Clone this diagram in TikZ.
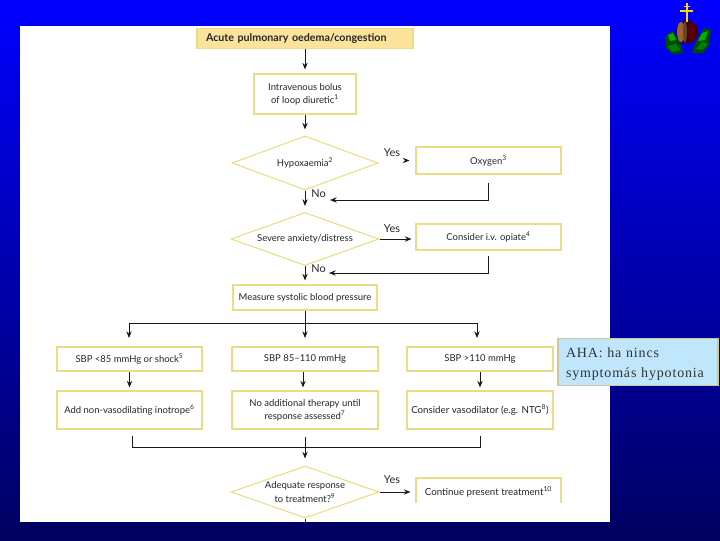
\documentclass[tikz,border=0pt]{standalone}
\usepackage{fontspec}
\setmainfont{Lato}
\newfontfamily\ahafont[LetterSpace=6]{Liberation Serif}
\usetikzlibrary{arrows.meta,shapes.geometric}
\definecolor{bord}{HTML}{EBDD85}
\definecolor{titlefill}{HTML}{FBE39C}
\definecolor{ink}{HTML}{262626}
\definecolor{ahafill}{HTML}{BFE6FA}
\definecolor{ahabord}{HTML}{CFC796}
\newcommand{\sps}[1]{\textsuperscript{#1}}
\tikzset{
  x=0.75pt,y=-0.75pt,
  sz/.style 2 args={minimum width=#1*0.75pt,minimum height=#2*0.75pt},
  bx/.style={draw=bord,line width=0.8pt,fill=white,inner sep=0pt,align=center,text=ink,font=\fontsize{7.1}{10}\selectfont},
  dm/.style={diamond,draw=bord,line width=0.8pt,fill=white,inner sep=0pt,aspect=2.75,align=center,text=ink,font=\fontsize{7.1}{10}\selectfont},
  lab/.style={text=ink,inner sep=0pt,font=\fontsize{8.2}{10}\selectfont},
  ln/.style={draw=black!90,line width=0.75pt},
  arr/.style={ln,-{Stealth[length=5pt,width=4pt]}},
}
\begin{document}
\begin{tikzpicture}
\useasboundingbox (0,0) rectangle (720,540);
\shade[top color={rgb,255:red,0;green,0;blue,255},bottom color={rgb,255:red,0;green,0;blue,96}] (0,0) rectangle (720,540);
\fill[white] (20,26) rectangle (610,522);

% nodes
\node[bx,sz={216}{20},fill=titlefill,font=\fontsize{8}{10}\selectfont\bfseries,text width=198*0.75pt,inner xsep=9*0.75pt,align=left] (title) at (305,38.5) {Acute pulmonary oedema/congestion};
\node[bx,sz={102}{40}] (bolus) at (305,94) {Intravenous bolus\\of loop diuretic\sps{1}};
\node[dm,sz={146}{54}] (hypo) at (305,163) {Hypoxaemia\sps{2}};
\node[bx,sz={145}{27}] (oxygen) at (488.5,160.5) {Oxygen\sps{3}};
\node[dm,sz={148}{53}] (anx) at (305,239) {Severe anxiety/distress};
\node[bx,sz={145}{26}] (opiate) at (488.5,237) {Consider i.v. opiate\sps{4}};
\node[bx,sz={144}{25}] (measure) at (305,297.5) {Measure systolic blood pressure};
\node[bx,sz={145}{24}] (sl) at (129.5,359) {SBP <85 mmHg or shock\sps{5}};
\node[bx,sz={146}{24}] (sm) at (305,359) {SBP 85--110 mmHg};
\node[bx,sz={146}{24}] (sr) at (480,359) {SBP >110 mmHg};
\node[bx,sz={145}{38}] (tl) at (129.5,410) {Add non-vasodilating inotrope\sps{6}};
\node[bx,sz={146}{38}] (tm) at (305,410) {No additional therapy until\\response assessed\sps{7}};
\node[bx,sz={146}{38},font=\fontsize{7.3}{10}\selectfont] (tr) at (480,410) {Consider vasodilator (e.g. NTG\sps{8})};
\node[dm,sz={148}{52}] (adq) at (305,492) {Adequate response\\to treatment?\sps{9}};
\node[bx,sz={145}{27},font=\fontsize{7.3}{10}\selectfont] (cont) at (488.5,491.5) {Continue present treatment\sps{10}};
\fill[white] (414,503) rectangle (563,507);

\node[lab] (yes1) at (392,153) {Yes};
\node[lab] (no1) at (318.5,194) {No};
\node[lab] (yes2) at (392,229) {Yes};
\node[lab] (no2) at (318.5,269) {No};
\node[lab] (yes3) at (392,480) {Yes};

\node[draw=ahabord,line width=1pt,fill=ahafill,minimum width=160*0.75pt,minimum height=47*0.75pt,inner xsep=8*0.75pt,inner ysep=0pt,text width=144*0.75pt,align=left,font=\fontsize{10.5}{15}\selectfont\ahafont,text=black!80] (aha) at (638,362) {\rule{0pt}{11pt}AHA: ha nincs\\\mbox{symptomás hypotonia}};

% free ends and junctions
\coordinate (j1) at (330,200);
\coordinate (j2) at (329,273);
\coordinate (bus) at (305,323.5);
\coordinate (al) at (129,338);
\coordinate (am) at (305,338);
\coordinate (ar) at (477,338);
\coordinate (bl) at (132,447);
\coordinate (bm) at (305,447);
\coordinate (br) at (480,447);
\coordinate (bot) at (305,522);

% connectors
\draw[arr,shorten >=4*0.75pt] (title.south) -- (bolus.north);
\draw[arr,shorten >=6*0.75pt] (bolus.south) -- (hypo.north);
\draw[arr,shorten >=6*0.75pt] (hypo.south) -- (anx.north);
\draw[arr,shorten >=4*0.75pt] (anx.south) -- (measure.north);
\draw[arr,shorten <=26*0.75pt,shorten >=6*0.75pt] (hypo.east|-oxygen.west) -- (oxygen.west);
\draw[arr,shorten >=4*0.75pt] (anx.east) -- (opiate.west|-anx.east);
\draw[arr,shorten <=8*0.75pt] (oxygen.south) |- (j1);
\draw[arr,shorten <=5*0.75pt] (opiate.south) |- (j2);
\draw[ln] (measure.south) -- (bus);
\draw[arr] (bus) -| (al);
\draw[arr] (bus) -- (am);
\draw[arr] (bus) -| (ar);
\draw[arr,shorten >=3*0.75pt] (sl.south) -- (tl.north);
\draw[arr,shorten >=3*0.75pt] (sm.south-|303,0) -- (tm.north-|303,0);
\draw[arr,shorten >=3*0.75pt] (sr.south) -- (tr.north);
\coordinate (bls) at (132,436);
\coordinate (brs) at (480,436);
\draw[ln] (bls) -- (bl) -- (br) -- (brs);
\draw[arr,shorten <=7*0.75pt,shorten >=7*0.75pt] (tm.south) -- (adq.north);
\draw[arr,shorten >=5*0.75pt] (adq.east) -- (cont.west|-adq.east);
\draw[ln] (adq.south) -- (bot);

% emblem
\fill[green!30!black] (665,37) -- (672,31) -- (680,42) -- (683,53) -- (673,54) -- (666,48) -- cycle;
\fill[green!30!black] (711,30) -- (704,28) -- (696,42) -- (692,53) -- (703,53) -- (709,45) -- cycle;
\fill[green!70!black] (668,35) -- (673,33) -- (676,40) -- (670,41) -- cycle;
\fill[green!70!black] (708,31) -- (702,33) -- (698,41) -- (705,40) -- cycle;
\fill[green!50!black] (668,46) -- (676,44) -- (680,50) -- (672,52) -- cycle;
\fill[green!50!black] (702,42) -- (708,44) -- (702,50) -- (696,49) -- cycle;
\fill[black!75!red] (687,32) ellipse (11 and 11.5);
\fill[brown!80!black] (681,32) ellipse (4 and 10);
\fill[brown!55!black] (685,32) ellipse (2 and 10.5);
\fill[red!35!black] (692,32) ellipse (4 and 10);
\draw[yellow!75!orange,line width=1.6pt] (687,3) -- (687,22);
\draw[yellow!75!orange,line width=1.6pt] (680,11) -- (693,11);
\draw[yellow!75!orange,line width=1.2pt] (684,6.5) -- (690,6.5);
\end{tikzpicture}
\end{document}
